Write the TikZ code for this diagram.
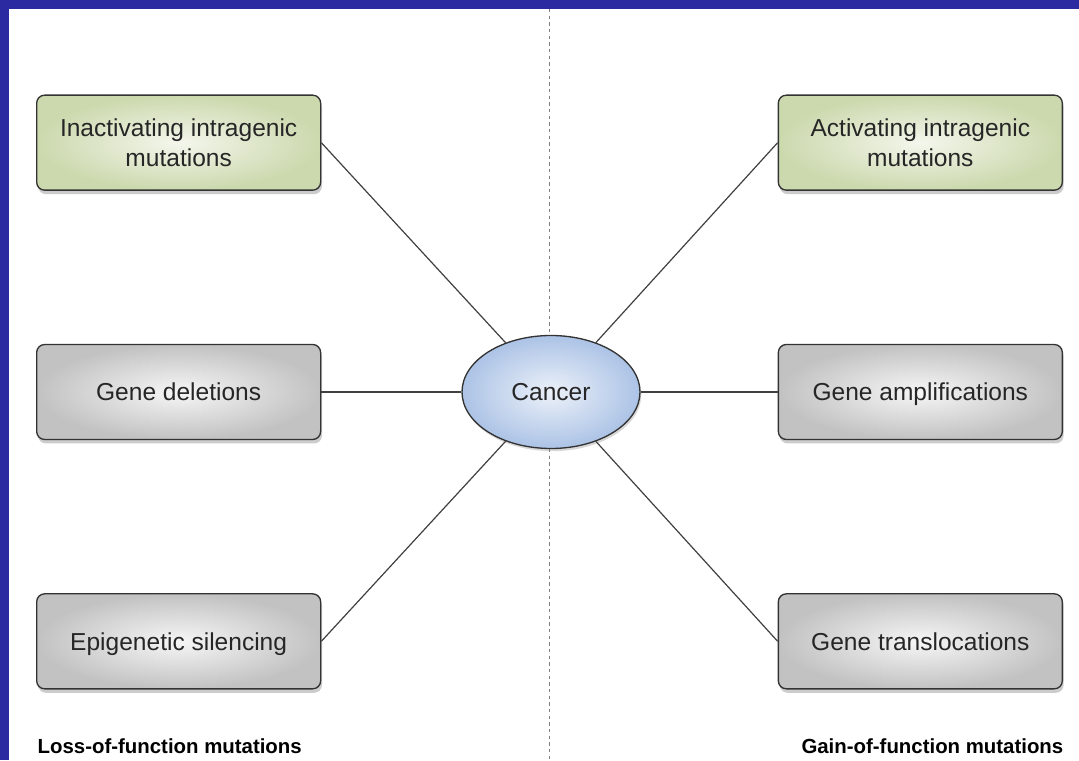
\documentclass[tikz,border=0pt]{standalone}
\usepackage{fontspec}
\setmainfont{Liberation Sans}
\usetikzlibrary{positioning, shadows, shapes.geometric}
\definecolor{framebl}{RGB}{44,42,160}

\begin{document}
\begin{tikzpicture}[
    x=0.75pt, y=-0.75pt,
    node distance=114.75pt and 105pt,
    every node/.style={align=center, font=\fontsize{18.4}{22}\selectfont, text=black!85},
    box/.style={rectangle, draw=black!80, line width=1pt, rounded corners=6pt, minimum width=213pt, minimum height=71.25pt, inner sep=0pt, text depth=0pt, drop shadow={opacity=0.4, shadow xshift=1pt, shadow yshift=-3pt}},
    greenbox/.style={box, inner color={rgb,255:red,244;green,246;blue,236}, outer color={rgb,255:red,204;green,217;blue,174}},
    greybox/.style={box, inner color={rgb,255:red,246;green,246;blue,246}, outer color={rgb,255:red,194;green,194;blue,194}},
    cancerell/.style={ellipse, draw=black!80, line width=1pt, minimum width=133.5pt, minimum height=84.75pt, inner sep=0pt, inner color={rgb,255:red,236;green,241;blue,249}, outer color={rgb,255:red,172;green,195;blue,230}, drop shadow={opacity=0.3, shadow xshift=1pt, shadow yshift=-2pt}},
    link/.style={line width=0.9pt, black!75},
    sidelabel/.style={font=\bfseries\fontsize{15.3}{18}\selectfont, text=black}
]

% Frame and divider
\fill[framebl] (0,0) rectangle (1079,760);
\fill[white] (9,9) rectangle (1079,760);
\draw[gray, line width=0.75pt, dash pattern=on 2.5pt off 2.5pt] (549,9) -- (549,760);

% Nodes
\node[cancerell] (cancer) at (551,392) {Cancer};
\node[greybox, left=of cancer] (deletions) {Gene deletions};
\node[greenbox, above=of deletions] (inactivating) {Inactivating intragenic\\mutations};
\node[greybox, below=of deletions] (silencing) {Epigenetic silencing};
\node[greybox, right=102.75pt of cancer] (amplif) {Gene amplifications};
\node[greenbox, above=of amplif] (activating) {Activating intragenic\\mutations};
\node[greybox, below=of amplif] (transloc) {Gene translocations};

% Labels
\node[sidelabel, anchor=base west] (losslabel) at (33,753) {Loss-of-function mutations};
\node[sidelabel, anchor=base east] (gainlabel) at (1068,753) {Gain-of-function mutations};

% Links
\draw[link] (inactivating.east) -- (cancer);
\draw[link] (deletions.east) -- (cancer);
\draw[link] (silencing.east) -- (cancer);
\draw[link] (activating.west) -- (cancer);
\draw[link] (amplif.west) -- (cancer);
\draw[link] (transloc.west) -- (cancer);

\end{tikzpicture}
\end{document}
